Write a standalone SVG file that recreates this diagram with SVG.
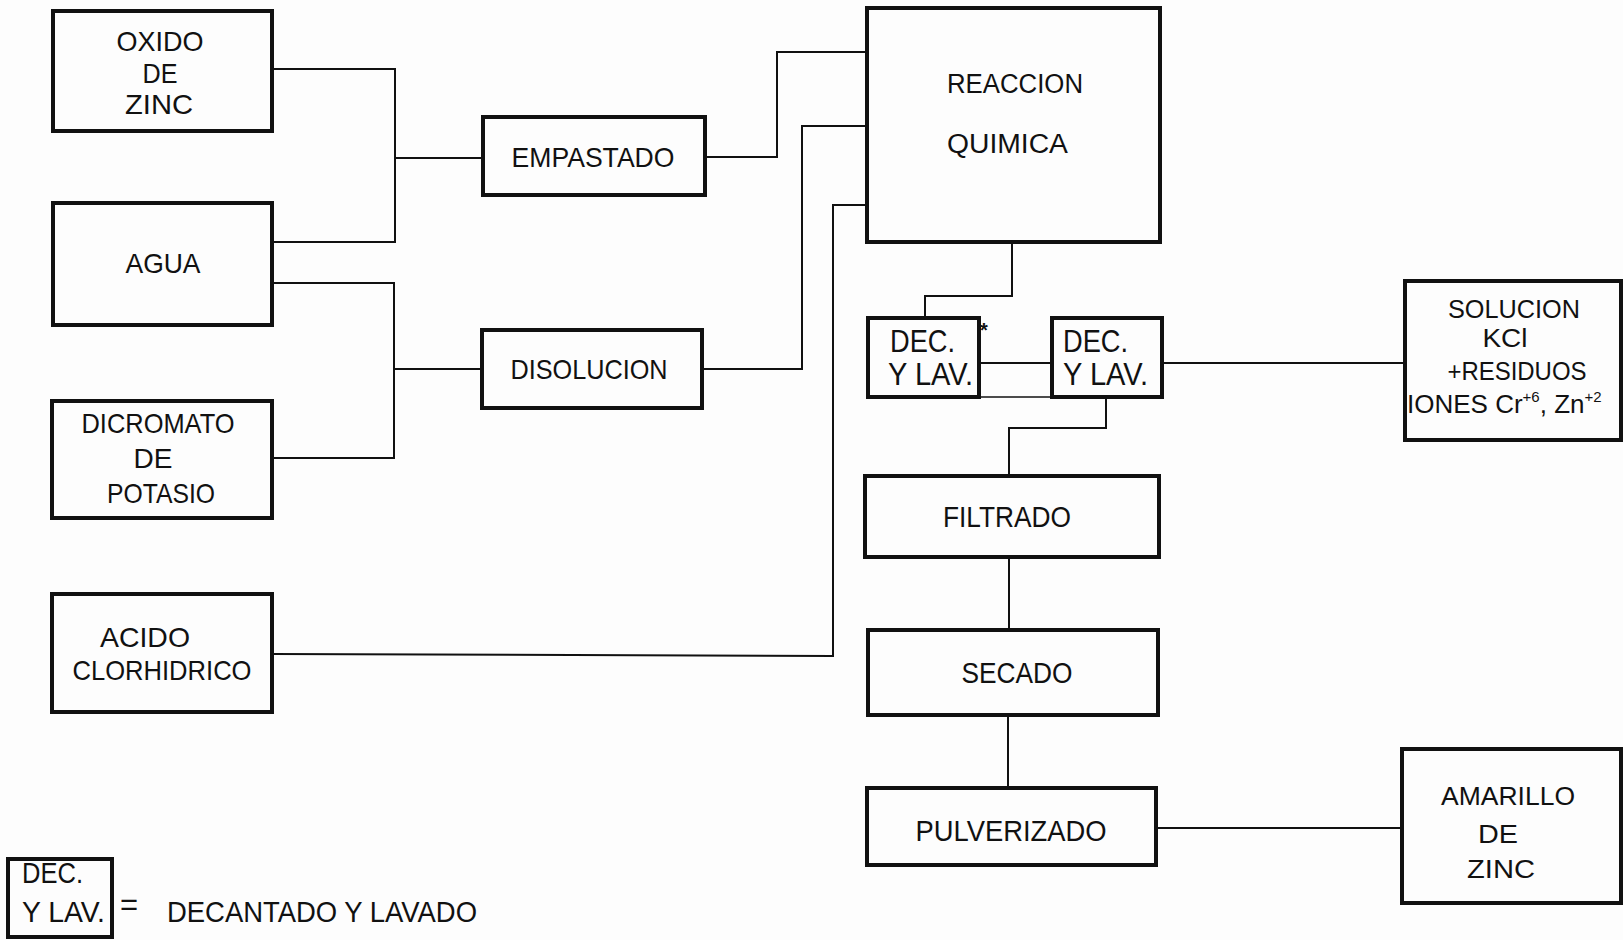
<svg xmlns="http://www.w3.org/2000/svg" width="1623" height="940" viewBox="0 0 1623 940">
<style>
.box{fill:none;stroke:#111;stroke-width:4}
.con{fill:none;stroke:#111;stroke-width:2}
.thin{fill:none;stroke:#111;stroke-width:1.5}
text{font-family:"Liberation Sans",Arial,sans-serif;fill:#111}
.c{text-anchor:middle}
</style>
<rect x="0" y="0" width="1623" height="940" fill="#fdfdfd"/>
<g id="connectors">
<path class="con" d="M272,69 H395 V242 H272 M395,158 H483"/>
<path class="con" d="M272,283 H394 V458 H272 M394,369 H482"/>
<path class="con" d="M705,157 H777 V52 H867"/>
<path class="con" d="M702,369 H802 V126 H867"/>
<path class="con" d="M272,654 L833,656 V205 H867"/>
<path class="con" d="M1012,242 V296 H925 V318"/>
<path class="con" d="M979,363 H1053"/>
<path class="thin" d="M870,397 H1160"/>
<path class="con" d="M1162,363 H1405"/>
<path class="con" d="M1106,397 V428 H1009 V476"/>
<path class="con" d="M1009,557 V630"/>
<path class="con" d="M1008,715 V788"/>
<path class="con" d="M1156,828 H1402"/>
</g>
<g id="oxido">
<rect class="box" x="53" y="11" width="219" height="120"/>
<text class="c" x="160" y="51" font-size="28" textLength="87" lengthAdjust="spacingAndGlyphs">OXIDO</text>
<text class="c" x="160" y="83" font-size="28" textLength="35" lengthAdjust="spacingAndGlyphs">DE</text>
<text class="c" x="159" y="114" font-size="28" textLength="68" lengthAdjust="spacingAndGlyphs">ZINC</text>
</g>
<g id="agua">
<rect class="box" x="53" y="203" width="219" height="122"/>
<text class="c" x="163" y="273" font-size="28" textLength="75" lengthAdjust="spacingAndGlyphs">AGUA</text>
</g>
<g id="dicromato">
<rect class="box" x="52" y="401" width="220" height="117"/>
<text class="c" x="158" y="433" font-size="28" textLength="153" lengthAdjust="spacingAndGlyphs">DICROMATO</text>
<text class="c" x="153" y="468" font-size="28" textLength="39" lengthAdjust="spacingAndGlyphs">DE</text>
<text class="c" x="161" y="503" font-size="28" textLength="108" lengthAdjust="spacingAndGlyphs">POTASIO</text>
</g>
<g id="acido">
<rect class="box" x="52" y="594" width="220" height="118"/>
<text class="c" x="145" y="647" font-size="28" textLength="90" lengthAdjust="spacingAndGlyphs">ACIDO</text>
<text class="c" x="162" y="680" font-size="28" textLength="179" lengthAdjust="spacingAndGlyphs">CLORHIDRICO</text>
</g>
<g id="empastado">
<rect class="box" x="483" y="117" width="222" height="78"/>
<text class="c" x="593" y="167" font-size="28" textLength="163" lengthAdjust="spacingAndGlyphs">EMPASTADO</text>
</g>
<g id="disolucion">
<rect class="box" x="482" y="330" width="220" height="78"/>
<text class="c" x="589" y="379" font-size="28" textLength="157" lengthAdjust="spacingAndGlyphs">DISOLUCION</text>
</g>
<g id="reaccion">
<rect class="box" x="867" y="8" width="293" height="234"/>
<text x="947" y="93" font-size="27" textLength="136" lengthAdjust="spacingAndGlyphs">REACCION</text>
<text x="947" y="153" font-size="27" textLength="121" lengthAdjust="spacingAndGlyphs">QUIMICA</text>
</g>
<g id="dec1">
<rect class="box" x="868" y="318" width="111" height="79"/>
<text x="890" y="352" font-size="31" textLength="65" lengthAdjust="spacingAndGlyphs">DEC.</text>
<text x="888" y="385" font-size="31" textLength="85" lengthAdjust="spacingAndGlyphs">Y LAV.</text>
<text x="980" y="337" font-size="20" font-weight="bold">*</text>
</g>
<g id="dec2">
<rect class="box" x="1052" y="318" width="110" height="79"/>
<text x="1063" y="352" font-size="31" textLength="65" lengthAdjust="spacingAndGlyphs">DEC.</text>
<text x="1063" y="385" font-size="31" textLength="85" lengthAdjust="spacingAndGlyphs">Y LAV.</text>
</g>
<g id="solucion">
<rect class="box" x="1405" y="281" width="216" height="159"/>
<text class="c" x="1514" y="318" font-size="26" textLength="132" lengthAdjust="spacingAndGlyphs">SOLUCION</text>
<text class="c" x="1505" y="347" font-size="26" textLength="45" lengthAdjust="spacingAndGlyphs">KCl</text>
<text class="c" x="1517" y="380" font-size="26" textLength="139" lengthAdjust="spacingAndGlyphs">+RESIDUOS</text>
<text x="1407" y="413" font-size="26">IONES Cr<tspan dy="-11" font-size="15">+6</tspan><tspan dy="11">, Zn</tspan><tspan dy="-11" font-size="15">+2</tspan></text>
</g>
<g id="filtrado">
<rect class="box" x="865" y="476" width="294" height="81"/>
<text class="c" x="1007" y="527" font-size="29" textLength="128" lengthAdjust="spacingAndGlyphs">FILTRADO</text>
</g>
<g id="secado">
<rect class="box" x="868" y="630" width="290" height="85"/>
<text class="c" x="1017" y="683" font-size="29" textLength="111" lengthAdjust="spacingAndGlyphs">SECADO</text>
</g>
<g id="pulverizado">
<rect class="box" x="867" y="788" width="289" height="77"/>
<text class="c" x="1011" y="841" font-size="29" textLength="191" lengthAdjust="spacingAndGlyphs">PULVERIZADO</text>
</g>
<g id="amarillo">
<rect class="box" x="1402" y="749" width="219" height="154"/>
<text class="c" x="1508" y="805" font-size="26" textLength="134" lengthAdjust="spacingAndGlyphs">AMARILLO</text>
<text class="c" x="1498" y="843" font-size="26" textLength="40" lengthAdjust="spacingAndGlyphs">DE</text>
<text class="c" x="1501" y="878" font-size="26" textLength="68" lengthAdjust="spacingAndGlyphs">ZINC</text>
</g>
<g id="legend">
<rect class="box" x="8" y="859" width="104" height="78"/>
<text x="22" y="883" font-size="30" textLength="61" lengthAdjust="spacingAndGlyphs">DEC.</text>
<text x="22" y="922" font-size="30" textLength="83" lengthAdjust="spacingAndGlyphs">Y LAV.</text>
<text x="120" y="915" font-size="31">=</text>
<text x="167" y="922" font-size="29" textLength="310" lengthAdjust="spacingAndGlyphs">DECANTADO Y LAVADO</text>
</g>
</svg>
